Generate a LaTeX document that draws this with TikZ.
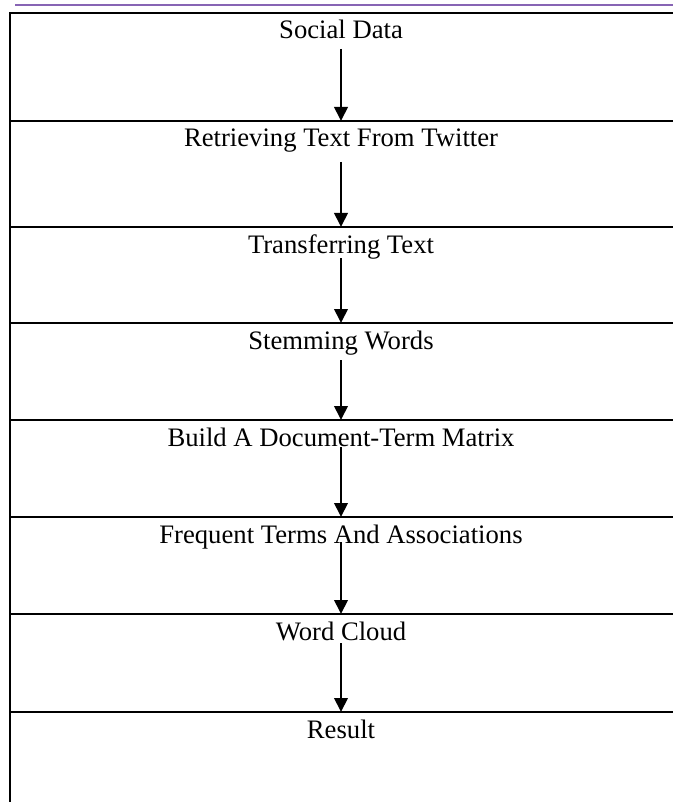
\documentclass[tikz,border=0pt]{standalone}
\usepackage{fontspec}
\setmainfont{Liberation Serif}
\usetikzlibrary{arrows.meta}
\definecolor{hdrpurple}{RGB}{135,100,180}

\begin{document}
\begin{tikzpicture}[x=0.75pt, y=-0.75pt,
    stage/.style={anchor=base, inner sep=0pt, font=\fontsize{20}{24}\selectfont},
    rule/.style={line width=2pt},
    flow/.style={line width=2pt, -{Triangle[length=10.5pt, width=10pt]}}
  ]
  \useasboundingbox (0,0) rectangle (673,802);

  % header line
  \draw[hdrpurple, line width=2pt] (15,5) -- (673,5);

  % frame and dividers
  \draw[rule] (673,13) -- (10,13) -- (10,802);
  \foreach \y [count=\i from 2] in {121,227,323,420,517,614,712} {
    \draw[rule] (10,\y) -- (673,\y);
    \coordinate (d\i) at (341,\y);
  }

  % stages
  \node[stage] (social)   at (341,39)  {Social Data};
  \node[stage] (retrieve) at (341,147) {Retrieving Text From Twitter};
  \node[stage] (transfer) at (341,253) {Transferring Text};
  \node[stage] (stem)     at (341,349) {Stemming Words};
  \node[stage] (dtm)      at (341,446) {Build A Document-Term Matrix};
  \node[stage] (freq)     at (341,543) {Frequent Terms And Associations};
  \node[stage] (cloud)    at (341,640) {Word Cloud};
  \node[stage] (result)   at (341,738) {Result};

  % arrows
  \foreach \y [count=\i] in {49,162,258,360,447,542,643}
    \coordinate (t\i) at (341,\y);
  \foreach \i [evaluate=\i as \j using int(\i+1)] in {1,...,7}
    \draw[flow] (t\i) -- (d\j);
\end{tikzpicture}
\end{document}
